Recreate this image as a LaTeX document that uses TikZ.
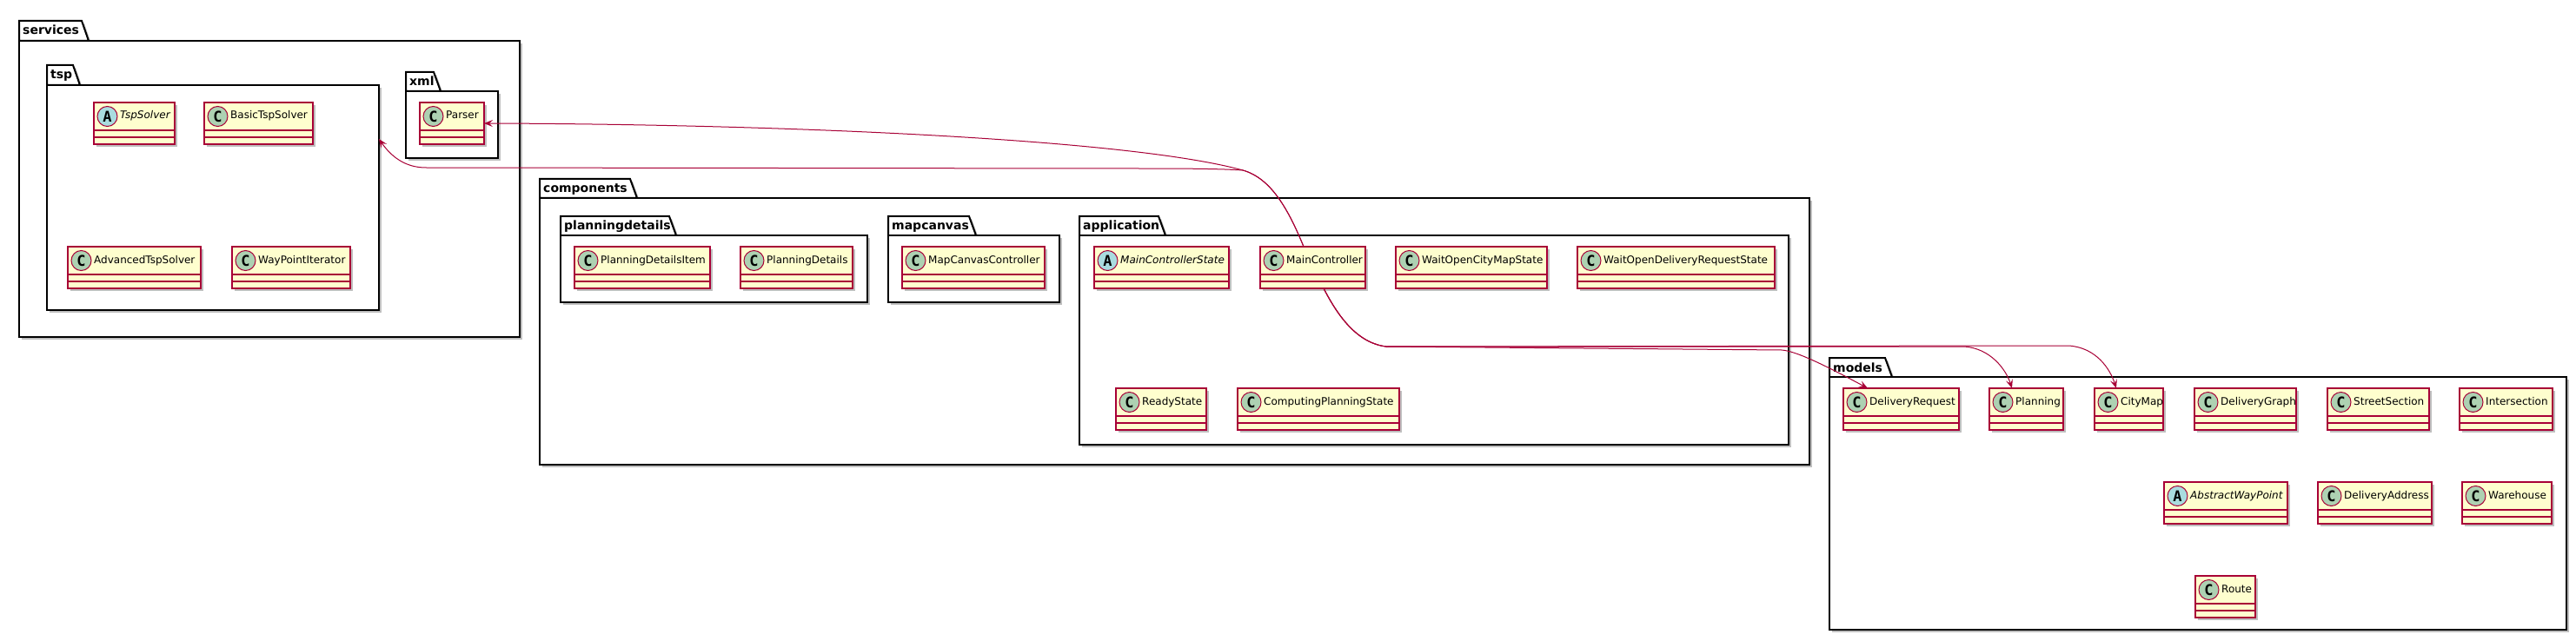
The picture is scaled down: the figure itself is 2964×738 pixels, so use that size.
\documentclass[tikz,border=0pt]{standalone}
\usepackage{fontspec}
\setmainfont{DejaVu Sans}
\newfontfamily\circfam{DejaVu Sans Mono}
\usetikzlibrary{shadows,arrows.meta}
\definecolor{umlred}{HTML}{A80036}
\definecolor{classfill}{HTML}{FEFECE}
\definecolor{cgreen}{HTML}{ADD1B2}
\definecolor{ablue}{HTML}{A9DCDF}
\tikzset{
 myshadow/.style={drop shadow={shadow xshift=3pt,shadow yshift=-3pt,opacity=0.25,fill=black}},
 classbox/.style={rectangle, draw=umlred, fill=classfill, line width=1.2pt, minimum height=48pt, inner sep=0pt, outer sep=0pt, myshadow},
 classsep/.style={draw=umlred, line width=1.2pt},
 circC/.style={circle, draw=umlred, fill=cgreen, line width=1pt, minimum size=23pt, inner sep=0pt, font=\circfam\bfseries\fontsize{17pt}{17pt}\selectfont},
 circA/.style={circC, fill=ablue},
 classtext/.style={inner sep=0pt, font=\fontsize{12pt}{14pt}\selectfont},
 pkgbody/.style={rectangle, draw=black, fill=white, line width=2pt, inner sep=0pt, outer sep=0pt, myshadow},
 pkgtab/.style={draw=black, fill=white, line width=2pt, line join=miter, myshadow},
 pkgtext/.style={inner sep=0pt, font=\bfseries\fontsize{14pt}{16pt}\selectfont},
 conn/.style={draw=umlred, line width=1pt},
 arr/.style={conn, -{Stealth[length=10pt,width=8pt,inset=4pt]}},
}
% package: name, x1, ytab, ytop, tabright, x2, y2, label
\newcommand{\umlpkg}[8]{%
  \draw[pkgtab] (#2,#4) -- (#2,#3) -- ({#5-8},#3) -- (#5,#4) -- cycle;
  \node[pkgbody, anchor=north west, minimum width={(#6-#2)*1pt}, minimum height={(#7-#4)*1pt}] (#1) at (#2,#4) {};
  \node[pkgtext, anchor=base west] (#1-label) at ({#2+4},{#3+16}) {#8};
}
% class: name, x1, y1, x2, kind (C/A), label
\newcommand{\umlclass}[6]{%
  \node[classbox, anchor=north west, minimum width={(#4-#2)*1pt}] (#1) at (#2,#3) {};
  \draw[classsep] ([yshift=-32pt]#1.north west) -- ([yshift=-32pt]#1.north east)
                  ([yshift=-40pt]#1.north west) -- ([yshift=-40pt]#1.north east);
  \node[circ#5] (#1-icon) at ([xshift=15.5pt,yshift=-16pt]#1.north west) {#5};
  \node[classtext, anchor=base west] (#1-name) at ([xshift=30pt,yshift=-19pt]#1.north west) {#6};
}
\begin{document}
\begin{tikzpicture}[x=1pt,y=-1pt]
\useasboundingbox (0,0) rectangle (2964,738);
\fill[white] (0,0) rectangle (2964,738);

% services
\umlpkg{services}{22}{24}{47}{102}{598}{388}{services}
\umlpkg{tsp}{54}{75}{98}{92}{436}{357}{tsp}
\umlpkg{xml}{467}{83}{105}{507}{573}{182}{xml}
\umlclass{TspSolver}{108}{118}{201}{A}{\textit{TspSolver}}
\umlclass{BasicTspSolver}{235}{118}{360}{C}{BasicTspSolver}
\umlclass{AdvancedTspSolver}{78}{284}{231}{C}{AdvancedTspSolver}
\umlclass{WayPointIterator}{267}{284}{403}{C}{WayPointIterator}
\umlclass{Parser}{483}{118}{557}{C}{Parser}

% components
\umlpkg{components}{621}{206}{228}{733}{2082}{535}{components}
\umlpkg{planningdetails}{645}{249}{271}{778}{998}{348}{planningdetails}
\umlpkg{mapcanvas}{1022}{249}{271}{1123}{1219}{348}{mapcanvas}
\umlpkg{application}{1242}{249}{271}{1341}{2058}{512}{application}
\umlclass{PlanningDetailsItem}{661}{284}{817}{C}{PlanningDetailsItem}
\umlclass{PlanningDetails}{852}{284}{981}{C}{PlanningDetails}
\umlclass{MapCanvasController}{1038}{284}{1202}{C}{MapCanvasController}
\umlclass{MainControllerState}{1259}{284}{1414}{A}{\textit{MainControllerState}}
\umlclass{MainController}{1450}{284}{1571}{C}{MainController}
\umlclass{WaitOpenCityMapState}{1606}{284}{1780}{C}{WaitOpenCityMapState}
\umlclass{WaitOpenDeliveryRequestState}{1815}{284}{2042}{C}{WaitOpenDeliveryRequestState}
\umlclass{ReadyState}{1284}{447}{1388}{C}{ReadyState}
\umlclass{ComputingPlanningState}{1424}{447}{1610}{C}{ComputingPlanningState}

% models
\umlpkg{models}{2105}{412}{434}{2177}{2953}{725}{models}
\umlclass{DeliveryRequest}{2121}{447}{2254}{C}{DeliveryRequest}
\umlclass{Planning}{2289}{447}{2374}{C}{Planning}
\umlclass{CityMap}{2410}{447}{2489}{C}{CityMap}
\umlclass{DeliveryGraph}{2525}{447}{2642}{C}{DeliveryGraph}
\umlclass{StreetSection}{2678}{447}{2795}{C}{StreetSection}
\umlclass{Intersection}{2830}{447}{2937}{C}{Intersection}
\umlclass{AbstractWayPoint}{2490}{555}{2632}{A}{\textit{AbstractWayPoint}}
\umlclass{DeliveryAddress}{2667}{555}{2798}{C}{DeliveryAddress}
\umlclass{Warehouse}{2833}{555}{2936}{C}{Warehouse}
\umlclass{Route}{2526}{663}{2595}{C}{Route}

% connectors
\draw[arr] ([xshift=-10.5pt]MainController.north) .. controls (1482,240) and (1462,205) .. (1430,196)
   .. controls (1300,160) and (900,143) .. (Parser.east);
\draw[arr] ([xshift=-10.5pt]MainController.north) .. controls (1482,240) and (1462,205) .. (1430,196)
   .. controls (1400,194) and (1350,194) .. (1300,194) -- (490,193)
   .. controls (466,193) and (450,180) .. ([yshift=67.5pt]tsp.east);
\draw[arr] ([xshift=12.5pt]MainController.south) .. controls (1540,365) and (1562,395) .. (1595,399)
   -- (2050,403) .. controls (2068,404) and (2110,426) .. ([xshift=-38.5pt]DeliveryRequest.north);
\draw[arr] ([xshift=12.5pt]MainController.south) .. controls (1540,365) and (1562,395) .. (1595,399)
   -- (2260,399) .. controls (2290,401) and (2308,425) .. ([xshift=-16.5pt]Planning.north);
\draw[arr] ([xshift=12.5pt]MainController.south) .. controls (1540,365) and (1562,395) .. (1595,399)
   -- (2380,398) .. controls (2412,400) and (2428,425) .. ([xshift=-14.5pt]CityMap.north);
\end{tikzpicture}
\end{document}
